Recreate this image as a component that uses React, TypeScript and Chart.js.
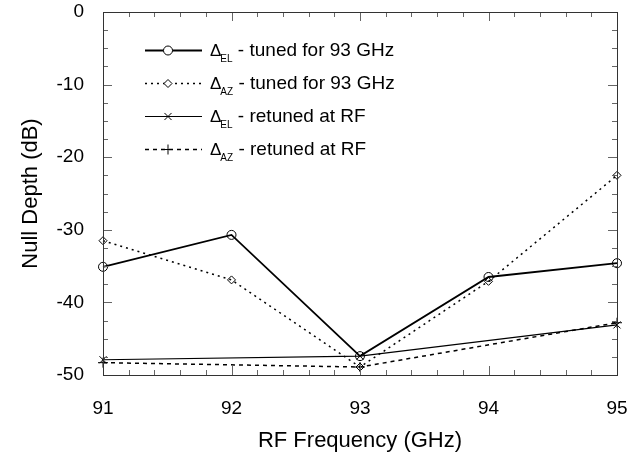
import React, { useEffect, useRef } from 'react';
import { Chart, registerables } from 'chart.js';
import { drawPoint } from 'chart.js/helpers';

Chart.register(...registerables);

// ---- data ----
const freqTuned = [91, 92, 93, 94, 95];
const elTuned = [-35.1, -30.7, -47.4, -36.5, -34.6];
const azTuned = [-31.5, -36.9, -48.9, -37.1, -22.5];
const freqRetuned = [91, 93, 95];
const elRetuned = [-47.9, -47.4, -43.1];
const azRetuned = [-48.3, -48.9, -42.8];

const xTickValues = [91, 92, 93, 94, 95];
const yTickValues = [0, -10, -20, -30, -40, -50];

const legendMain = ['\u0394', '\u0394', '\u0394', '\u0394'];
const legendSub = ['EL', 'AZ', 'EL', 'AZ'];
const legendText = [' - tuned for 93 GHz', ' - tuned for 93 GHz', ' - retuned at RF', ' - retuned at RF'];

const FONT = '"Liberation Sans", Arial, Helvetica, sans-serif';

const toPts = (xs: number[], ys: number[]) => xs.map((x, i) => ({ x, y: ys[i] }));

const tickPlugin = {
  id: 'boxTicks',
  afterDatasetsDraw(chart: any) {
    const { ctx } = chart;
    const xs = chart.scales.x;
    const ys = chart.scales.y;
    const { left, right, top, bottom } = chart.chartArea;
    ctx.save();
    ctx.lineWidth = 1;
    ctx.strokeStyle = '#666';
    // x ticks (bottom & top), every 0.2
    for (let i = 0; i <= 20; i++) {
      const v = xTickValues[0] + i * 0.2;
      const px = Math.round(xs.getPixelForValue(v)) + 0.5;
      const len = i % 5 === 0 ? 9 : 5;
      ctx.beginPath();
      ctx.moveTo(px, bottom);
      ctx.lineTo(px, bottom - len);
      ctx.moveTo(px, top);
      ctx.lineTo(px, top + len);
      ctx.stroke();
    }
    // y ticks (left & right), every 2.5
    for (let i = 0; i <= 20; i++) {
      const v = yTickValues[0] - i * 2.5;
      const py = Math.round(ys.getPixelForValue(v)) + 0.5;
      const len = i % 4 === 0 ? 9 : 5;
      ctx.beginPath();
      ctx.moveTo(left, py);
      ctx.lineTo(left + len, py);
      ctx.moveTo(right, py);
      ctx.lineTo(right - len, py);
      ctx.stroke();
    }
    ctx.strokeStyle = '#333';
    ctx.strokeRect(Math.round(left) + 0.5, Math.round(top) + 0.5, Math.round(right - left), Math.round(bottom - top));
    ctx.restore();
  },
};

const legendPlugin = {
  id: 'customLegend',
  afterDraw(chart: any) {
    const { ctx } = chart;
    const x0 = 145, x1 = 202, mx = 168, tx = 210;
    const rows = [50, 83, 116, 149];
    ctx.save();
    chart.data.datasets.forEach((ds: any, i: number) => {
      const y = rows[i];
      ctx.strokeStyle = ds.borderColor;
      ctx.lineWidth = ds.borderWidth;
      ctx.setLineDash(ds.borderDash || []);
      ctx.beginPath();
      ctx.moveTo(x0, y + 0.5);
      ctx.lineTo(x1, y + 0.5);
      ctx.stroke();
      ctx.setLineDash([]);
      ctx.lineWidth = 1;
      ctx.fillStyle = '#fff';
      drawPoint(ctx, { pointStyle: ds.pointStyle, radius: ds.pointRadius, rotation: 0, borderWidth: 1 }, mx, y + 0.5);
      ctx.fillStyle = '#000';
      ctx.textBaseline = 'alphabetic';
      ctx.textAlign = 'left';
      ctx.font = `17px ${FONT}`;
      ctx.fillText(legendMain[i], tx, y + 6);
      const w1 = ctx.measureText(legendMain[i]).width;
      ctx.font = `10px ${FONT}`;
      ctx.fillText(legendSub[i], tx + w1 - 1, y + 12);
      const w2 = ctx.measureText(legendSub[i]).width;
      ctx.font = `19px ${FONT}`;
      ctx.fillText(legendText[i], tx + w1 + w2 - 1, y + 6);
    });
    ctx.restore();
  },
};

export default function App() {
  const ref = useRef<HTMLCanvasElement | null>(null);
  useEffect(() => {
    if (!ref.current) return;
    const chart = new Chart(ref.current, {
      type: 'line',
      data: {
        datasets: [
          {
            data: toPts(freqTuned, elTuned),
            borderColor: '#000',
            borderWidth: 1.8,
            pointStyle: 'circle',
            pointRadius: 4.5,
            pointBackgroundColor: 'rgba(255,255,255,0)',
            pointBorderColor: '#000',
            pointBorderWidth: 1,
            tension: 0,
            clip: false,
          } as any,
          {
            data: toPts(freqTuned, azTuned),
            borderColor: '#000',
            borderWidth: 1.5,
            borderDash: [2, 4],
            pointStyle: 'rectRot',
            pointRadius: 4,
            pointBackgroundColor: 'rgba(255,255,255,0)',
            pointBorderColor: '#000',
            pointBorderWidth: 1,
            tension: 0,
            clip: false,
          },
          {
            data: toPts(freqRetuned, elRetuned),
            borderColor: '#000',
            borderWidth: 1.2,
            pointStyle: 'crossRot',
            pointRadius: 5,
            pointBorderColor: '#000',
            pointBorderWidth: 1,
            tension: 0,
            clip: false,
          },
          {
            data: toPts(freqRetuned, azRetuned),
            borderColor: '#000',
            borderWidth: 1.5,
            borderDash: [4, 4],
            pointStyle: 'cross',
            pointRadius: 5,
            pointBorderColor: '#000',
            pointBorderWidth: 1,
            tension: 0,
            clip: false,
          },
        ],
      },
      options: {
        animation: false,
        responsive: true,
        maintainAspectRatio: false,
        layout: { padding: { top: 12, right: 14, left: 0, bottom: 0 } },
        plugins: { legend: { display: false }, tooltip: { enabled: false } },
        scales: {
          x: {
            type: 'linear',
            min: 91,
            max: 95,
            afterFit: (s: any) => { s.height = 84; },
            afterBuildTicks: (s: any) => { s.ticks = xTickValues.map((v) => ({ value: v })); },
            grid: { display: true, drawOnChartArea: false, drawTicks: true, tickLength: 22, tickColor: 'rgba(0,0,0,0)' },
            border: { display: false },
            ticks: { color: '#000', font: { family: FONT, size: 19 }, padding: 0, maxRotation: 0 },
            title: { display: true, text: 'RF Frequency (GHz)', color: '#000', font: { family: FONT, size: 22 }, padding: { top: 0, bottom: 5 } },
          },
          y: {
            type: 'linear',
            min: -50,
            max: 0,
            afterFit: (s: any) => { s.width = 103; },
            afterBuildTicks: (s: any) => { s.ticks = yTickValues.map((v) => ({ value: v })); },
            grid: { display: true, drawOnChartArea: false, drawTicks: true, tickLength: 19, tickColor: 'rgba(0,0,0,0)' },
            border: { display: false },
            ticks: { color: '#000', font: { family: FONT, size: 19 }, padding: 0 },
            title: { display: true, text: 'Null Depth (dB)', color: '#000', font: { family: FONT, size: 22 }, padding: { top: 18, bottom: 0 } },
          },
        },
      },
      plugins: [tickPlugin, legendPlugin],
    });
    return () => chart.destroy();
  }, []);
  return (
    <div style={{ position: 'fixed', left: 0, top: 0, width: 631, height: 459, background: '#fff' }}>
      <canvas ref={ref} />
    </div>
  );
}
